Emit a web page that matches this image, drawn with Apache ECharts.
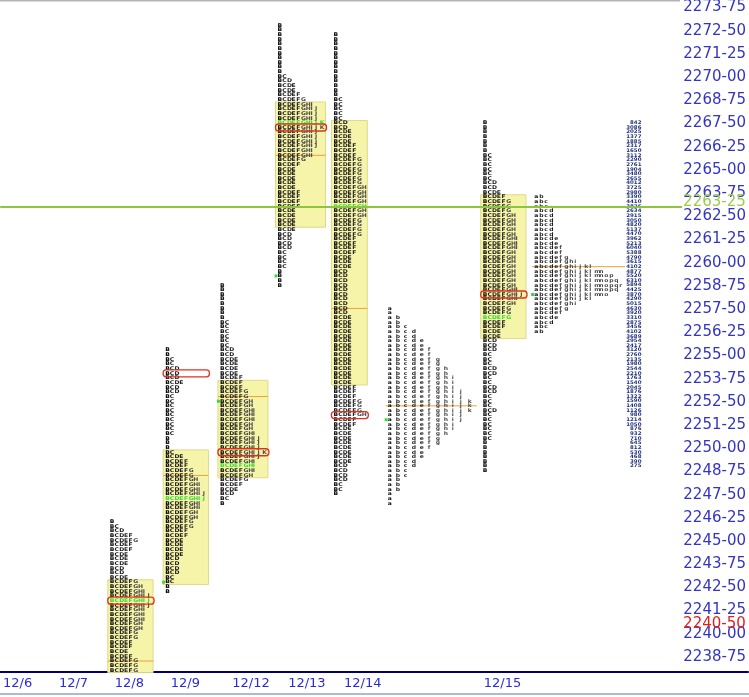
<!DOCTYPE html>
<html><head><meta charset="utf-8">
<script src="https://cdn.jsdelivr.net/npm/echarts@6/dist/echarts.min.js"></script>
<style>html,body{margin:0;padding:0;background:#fff}#c{width:749px;height:697px}</style>
</head><body><div id="c"></div>
<script>
// ---------- DATA ----------
const dates = ['12/6', '12/7', '12/8', '12/9', '12/12', '12/13', '12/14', '12/15'];
const dateSlot = [0.05, 1.05, 2.05, 3.05, 4.15, 5.15, 6.15, 8.65];
const yMin = 2238.75, yMax = 2273.75, yStep = 1.25, tick = 0.25;
const lastPrice = 2263.25;
const refPrice = 2240.50;

// profile sessions: 12/8, 12/9, 12/12, 12/13, 12/14, 12/14 overnight, 12/15, 12/15 overnight
const profileSlot = [1.96, 2.95, 3.93, 4.96, 5.96, 6.93, 8.63, 9.55];
const profileHigh = [2246.25, 2255.5, 2259.0, 2273.0, 2272.5, 2257.75, 2267.75, 2263.75];

// TPO counts per 0.25 row, from the session high downward
const tpo1208 = [1,2,3,5,6,5,5,4,4,4,3,3,4,6,7,8,9,9,9,8,8,8,7,7,6,6,5,5,4,5,6,6,6];
const tpo1209 = [1,1,2,2,3,3,3,4,3,3,2,2,2,2,2,2,2,2,2,1,1,1,2,
                 4,5,5,6,6,7,8,8,9,9,8,8,7,7,6,6,5,5,4,4,4,4,3,3,3,3,2,2,1,1];
const tpo1212 = [1,1,1,1,1,1,1,1,2,2,2,2,2,2,3,3,4,4,4,4,5,
                 5,5,6,6,7,7,8,8,8,7,7,8,9,9,9,10,9,8,8,8,7,6,5,4,3,2,1];
const tpo1213 = [1,1,1,1,1,1,1,1,1,1,1,
                 2,3,4,4,5,6,8,9,9,9,10,10,9,9,9,9,8,8,6,5,4,4,4,4,4,5,5,5,5,4,4,4,4,4,3,3,3,3,2,2,2,2,1,1,1,1];
const tpo1214 = [1,1,1,1,1,1,1,1,1,1,1,1,1,1, 2,2,2,2,2,
                 3,3,4,4,4,5,5,5,6,6,6,6,6,6,7,7,7,7,7,7,7,6,6,6,6,5,5,5,5,4,4,4,
                 3,3,3,3,3,3,3,3,3,3, 4,4,4,4,4,4,4,4,4,4,4,4,4,4, 4, 5,5,5, 6,6,6, 7, 5,5,
                 4,4,4,4,4,4,4,4, 3,3,3,3, 2,2, 1];
const tpo1214on = [1,1,2,2,3,4,4,5,5,6,6,7,7,8,8,9,9,9,10,10,11,11,11,10,10,9,9,8,7,7,6,5,5,4,4,3,3,2,2,2,1,1,1];
const tpo1215 = [1,1,1,1,1,1,1, 2,2,2,2,2,2, 3,3,4,
                 5,6,6,6,7,7,7,7,7,8,8,8,7,7,7,7,7,7,7,7,8,9,8,7,6,6,6,5,5,4,4,
                 3,3,3,2,2,
                 2,3,3,2,2,3,3,2,2,2,3,2,2,2,2,2,2,1,1,1,1,1,1,1];
const tpo1215on = [2,3,3,4,4,4,4,4,4,5,5,6,6,7,9,12,14,16,17,18,17,15,12,9,7,6,5,4,3,2];
const profileCounts = [tpo1208, tpo1209, tpo1212, tpo1213, tpo1214, tpo1214on, tpo1215, tpo1215on];

const vaHigh  = [2243.0, 2250.0, 2253.75, 2268.75, 2267.75, null, 2263.75, null];
const vaLow   = [2238.25, 2243.0, 2248.75, 2262.25, 2253.75, null, 2256.25, null];
const pocPrice = [2242.0, 2254.25, 2250.0, 2267.5, 2252.0, null, 2258.5, null];
const midPrice = [2238.75, 2248.75, 2253.0, 2266.0, 2257.75, 2252.5, null, 2260.0];
const greenRow = [2242.0, 2247.5, 2249.25, 2267.75, 2263.25, null, 2257.25, null];
const openPrice = [null, 2243.0, 2252.75, 2259.5, null, 2251.75, null, 2258.5];

// volume-at-price column (12/15), from 2267.75 downward
const volSlot = 11.47;
const volHigh = 2267.75;
const volumes = [842,3086,2025,1377,1885,2317,1650,3112,2290,2761,
  1904,3480,2655,4012,3725,2980,3390,4410,3876,2634,
  2915,3050,4820,5137,4470,3962,5213,6040,5388,4790,
  3615,4102,4877,5520,6310,5894,4425,3870,4290,5015,
  4630,3920,3310,2875,3456,4102,3689,2954,2417,3120,
  2760,2135,1980,2544,2210,1763,1540,2045,1876,1322,
  1590,1408,1126,980,1214,1050,876,932,710,645,
  812,530,468,390,275];

// ---------- STYLE ----------
const XMAX = 749 / 56;
const lineEndSlot = 683 / 56;
const colW = [4.7, 4.7, 4.7, 4.7, 4.7, 8, 4.7, 5];
const UPPER = 'BCDEFGHIJKLMNOPQRSTUVWXYZ';
const LOWER = 'abcdefghijklmnopqrstuvwxyz';
const letterSet = [UPPER, UPPER, UPPER, UPPER, UPPER, LOWER, UPPER, LOWER];
const LETTER_FONT = 'bold 6px "DejaVu Sans"';

function fmt(v) {
  const i = Math.floor(v + 1e-9);
  const f = Math.round((v - i) * 100);
  return i + '-' + String(f).padStart(2, '0');
}
const near = (a, b) => a != null && b != null && Math.abs(a - b) < 1e-6;

// width (in columns) used by boxes / markers
const boxCols = profileCounts.map((rows, pi) => {
  let m = 0;
  rows.forEach((c, r) => {
    const p = profileHigh[pi] - r * tick;
    if (vaHigh[pi] == null || (p <= vaHigh[pi] + 1e-9 && p >= vaLow[pi] - 1e-9)) m = Math.max(m, c);
  });
  return m;
});

// ---------- SERIES DATA ----------
const rowData = [];
profileCounts.forEach((rows, pi) => {
  rows.forEach((c, r) => rowData.push([profileSlot[pi], profileHigh[pi] - r * tick, c, pi]));
});
const boxData = [];
profileSlot.forEach((s, pi) => { if (vaHigh[pi] != null) boxData.push([s, vaHigh[pi], vaLow[pi], pi]); });
const pocData = [];
profileSlot.forEach((s, pi) => { if (pocPrice[pi] != null) pocData.push([s, pocPrice[pi], pi]); });
const midData = [];
profileSlot.forEach((s, pi) => { if (midPrice[pi] != null) midData.push([s, midPrice[pi], pi]); });
const openData = [];
profileSlot.forEach((s, pi) => { if (openPrice[pi] != null) openData.push([s, openPrice[pi], pi]); });
const volData = volumes.map((v, r) => [volSlot, volHigh - r * tick, v]);

function rowH(api) { return Math.abs(api.size([0, tick])[1]); }

const chart = echarts.init(document.getElementById('c'), null, { renderer: 'canvas' });
chart.setOption({
  animation: false,
  backgroundColor: '#ffffff',
  grid: { left: 0, right: 0, top: 11, height: 650 },
  xAxis: {
    type: 'value', min: 0, max: XMAX, offset: 11,
    splitLine: { show: false }, axisTick: { show: false },
    axisLine: { show: true, lineStyle: { color: '#00006e', width: 2 } },
    axisLabel: {
      customValues: dateSlot,
      formatter: v => { const i = dateSlot.findIndex(d => Math.abs(d - v) < 1e-6); return i >= 0 ? dates[i] : ''; },
      align: 'left', color: '#2a2ad8', fontSize: 13, fontFamily: 'DejaVu Sans', margin: 5
    }
  },
  yAxis: {
    type: 'value', position: 'right', min: yMin, max: yMax, interval: yStep,
    axisLine: { show: false }, axisTick: { show: false }, splitLine: { show: false },
    axisLabel: {
      inside: true, margin: 2, color: '#3434c4', fontSize: 15, fontFamily: 'DejaVu Sans',
      verticalAlign: 'bottom', lineHeight: 8, formatter: v => fmt(v)
    }
  },
  graphic: [
    { type: 'rect', left: 0, top: 0, shape: { width: 680, height: 1.5 }, style: { fill: '#b4b4b4' }, silent: true },
    { type: 'rect', left: 0, top: 693, shape: { width: 749, height: 2 }, style: { fill: '#a8bcd8' }, silent: true }
  ],
  series: [
    { // value-area boxes
      type: 'custom', z: 1, silent: true, data: boxData,
      renderItem: (params, api) => {
        const pi = api.value(3);
        const a = api.coord([api.value(0), api.value(1)]);
        const b = api.coord([api.value(0), api.value(2)]);
        const h = rowH(api);
        return { type: 'rect', shape: { x: a[0] - 2, y: a[1] - h / 2, width: boxCols[pi] * colW[pi] + 3, height: b[1] - a[1] + h },
          style: { fill: '#f6f4a8', stroke: '#dcda8a', lineWidth: 1 } };
      }
    },
    { // mid / developing lines
      type: 'custom', z: 2, silent: true, data: midData,
      renderItem: (params, api) => {
        const pi = api.value(2);
        const a = api.coord([api.value(0), api.value(1)]);
        const w = boxCols[pi] * colW[pi] + 3;
        return { type: 'line', shape: { x1: a[0] - 2, y1: a[1], x2: a[0] - 2 + w, y2: a[1] },
          style: { stroke: '#f0a030', lineWidth: 1 } };
      }
    },
    { // TPO letters
      type: 'custom', z: 3, silent: true, clip: false, data: rowData,
      renderItem: (params, api) => {
        const pi = api.value(3), price = api.value(1), count = api.value(2);
        const pt = api.coord([api.value(0), price]);
        const letters = letterSet[pi];
        const isGreen = near(price, greenRow[pi]);
        const children = [];
        for (let i = 0; i < count; i++) {
          let fill = i === 0 ? '#000' : (i < 5 ? '#1c1c1c' : '#4a4a4a');
          if (isGreen) fill = '#33dd33';
          children.push({ type: 'text', x: pt[0] + i * colW[pi], y: pt[1], scaleY: 0.85,
            style: { text: letters[i % letters.length], font: LETTER_FONT, fill, align: 'left', verticalAlign: 'middle' } });
        }
        return { type: 'group', children };
      }
    },
    { // POC markers
      type: 'custom', z: 4, silent: true, data: pocData,
      renderItem: (params, api) => {
        const pi = api.value(2);
        const a = api.coord([api.value(0), api.value(1)]);
        const w = boxCols[pi] * colW[pi] + 4;
        return { type: 'rect', shape: { x: a[0] - 2, y: a[1] - 3.5, width: w, height: 7, r: 3 },
          style: { fill: 'none', stroke: '#e0301e', lineWidth: 1.3 } };
      }
    },
    { // opening markers
      type: 'custom', z: 4, silent: true, data: openData,
      renderItem: (params, api) => {
        const a = api.coord([api.value(0), api.value(1)]);
        return { type: 'rect', shape: { x: a[0] - 3, y: a[1] - 1.5, width: 3, height: 3 }, style: { fill: '#33dd33' } };
      }
    },
    { // volume column
      type: 'custom', z: 3, silent: true, data: volData,
      renderItem: (params, api) => {
        const a = api.coord([api.value(0), api.value(1)]);
        return { type: 'text', x: a[0], y: a[1], scaleY: 0.9,
          style: { text: String(api.value(2)), font: 'bold 5.5px "DejaVu Sans"', fill: '#24347a', align: 'right', verticalAlign: 'middle' } };
      }
    },
    { // last price & reference price lines
      type: 'custom', z: 10, silent: true, data: [],
      renderItem: () => null,
      markLine: {
        silent: true, symbol: 'none', animation: false,
        data: [
          [{ coord: [0, lastPrice], lineStyle: { color: '#8cc63e', width: 2, type: 'solid' },
             label: { show: true, position: 'end', distance: 1, formatter: fmt(lastPrice), color: '#9acd4a',
                      fontSize: 15, fontFamily: 'DejaVu Sans', verticalAlign: 'bottom', lineHeight: 8 } },
           { coord: [lineEndSlot, lastPrice] }],
          [{ coord: [0, refPrice], lineStyle: { color: 'rgba(0,0,0,0)', width: 1, type: 'solid' },
             label: { show: true, position: 'end', distance: 1, formatter: fmt(refPrice), color: '#e02020',
                      fontSize: 15, fontFamily: 'DejaVu Sans', verticalAlign: 'bottom', lineHeight: 8 } },
           { coord: [lineEndSlot, refPrice] }]
        ]
      }
    }
  ]
});
</script></body></html>
